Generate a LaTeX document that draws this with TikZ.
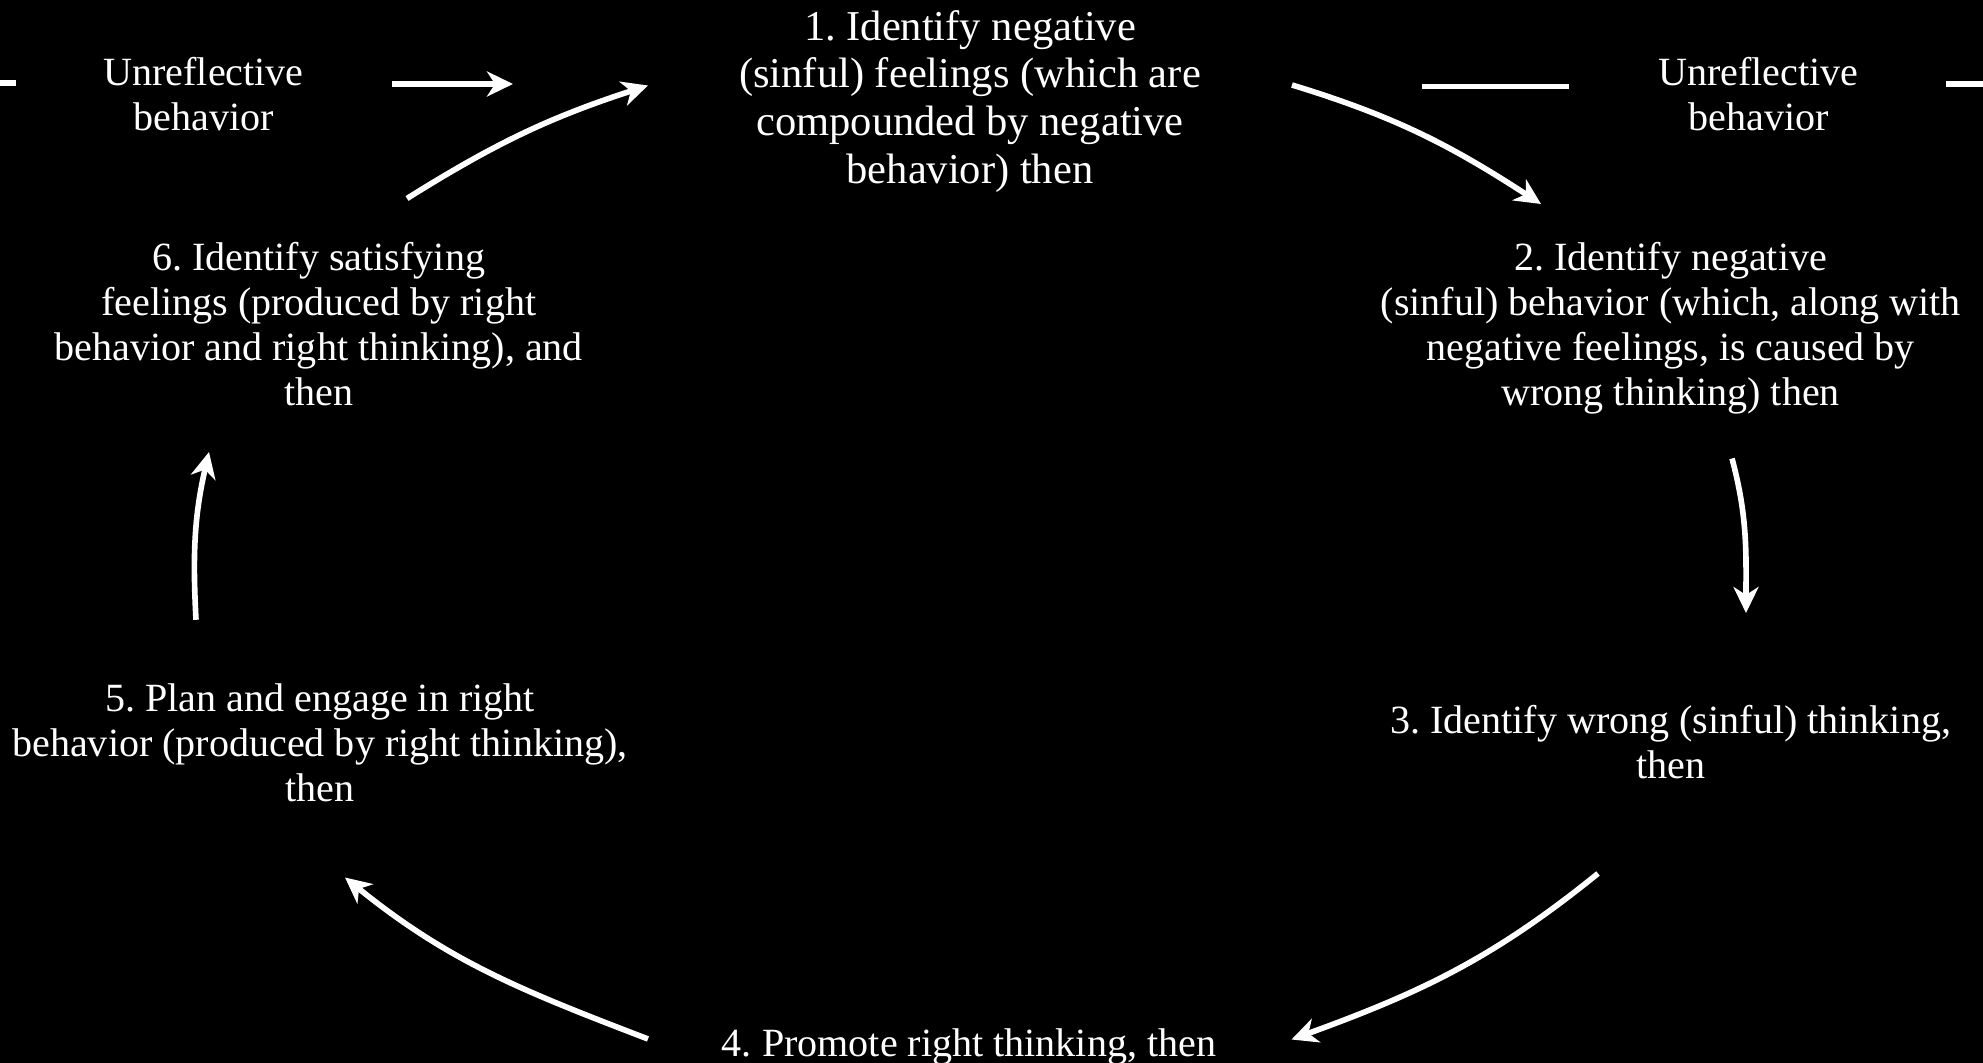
\documentclass[tikz,border=0pt]{standalone}
\usepackage{fontspec}
\setmainfont{Liberation Serif}
\usetikzlibrary{arrows.meta}
\begin{document}
\frenchspacing
\begin{tikzpicture}[
  txt/.style={text=white, align=center, inner sep=0pt, font=\frenchspacing\fontsize{11.4}{12.8}\selectfont},
  bigtxt/.style={txt, font=\frenchspacing\fontsize{12.1}{13.6}\selectfont},
  flow/.style={draw=white, line width=1.6pt, -{Stealth[length=2.6mm, width=2.5mm, inset=0.8mm]}},
  plainline/.style={draw=white, line width=1.6pt}
]
\useasboundingbox (0,0) rectangle (19.83,-10.63);
\fill[black] (0,0) rectangle (19.83,-10.63);

% text nodes
\node[txt] (unrL) at (2.036,-0.945) {Unreflective\\behavior};
\node[txt] (unrR) at (17.585,-0.945) {Unreflective\\behavior};
\node[bigtxt] (n1) at (9.70,-1.014) {1. Identify negative\\(sinful) feelings (which are\\compounded by negative\\behavior) then};
\node[txt] (n2) at (16.707,-3.284) {2. Identify negative\\(sinful) behavior (which, along with\\negative feelings, is caused by\\wrong thinking) then};
\node[txt] (n3) at (16.707,-7.424) {3. Identify wrong (sinful) thinking,\\then};
\node[txt] (n4) at (9.69,-10.474) {4. Promote right thinking, then};
\node[txt] (n5) at (3.20,-7.424) {5. Plan and engage in right\\behavior (produced by right thinking),\\then};
\node[txt] (n6) at (3.187,-3.244) {6. Identify satisfying\\feelings (produced by right\\behavior and right thinking), and\\then};

% connector end points
\coordinate (hLs) at (3.915,-0.84);
\coordinate (hLe) at (5.13,-0.84);
\coordinate (c61s) at (4.07,-1.985);
\coordinate (c61e) at (6.48,-0.855);
\coordinate (c12s) at (12.92,-0.85);
\coordinate (c12e) at (15.41,-2.04);
\coordinate (c23s) at (17.32,-4.585);
\coordinate (c23e) at (17.46,-6.13);
\coordinate (c34s) at (15.98,-8.735);
\coordinate (c34e) at (12.915,-10.395);
\coordinate (c45s) at (6.48,-10.39);
\coordinate (c45e) at (3.45,-8.775);
\coordinate (c56s) at (1.96,-6.198);
\coordinate (c56e) at (2.09,-4.52);
\coordinate (rTs) at (14.22,-0.865);
\coordinate (rTe) at (15.69,-0.865);
\coordinate (rEs) at (19.46,-0.84);
\coordinate (rEe) at (19.90,-0.84);
\coordinate (lEs) at (-0.05,-0.83);
\coordinate (lEe) at (0.156,-0.83);

% connectors
\draw[flow] (hLs) -- (hLe);
\draw[flow] (c61s) to[out=32, in=198] (c61e);
\draw[flow] (c12s) to[out=-17, in=147] (c12e);
\draw[flow] (c23s) to[out=-75, in=90] (c23e);
\draw[flow] (c34s) to[out=-141, in=20] (c34e);
\draw[flow] (c45s) to[out=159, in=-39] (c45e);
\draw[flow] (c56s) to[out=93, in=-103] (c56e);
\draw[plainline] (rTs) -- (rTe);
\draw[plainline] (rEs) -- (rEe);
\draw[plainline] (lEs) -- (lEe);
\end{tikzpicture}
\end{document}
